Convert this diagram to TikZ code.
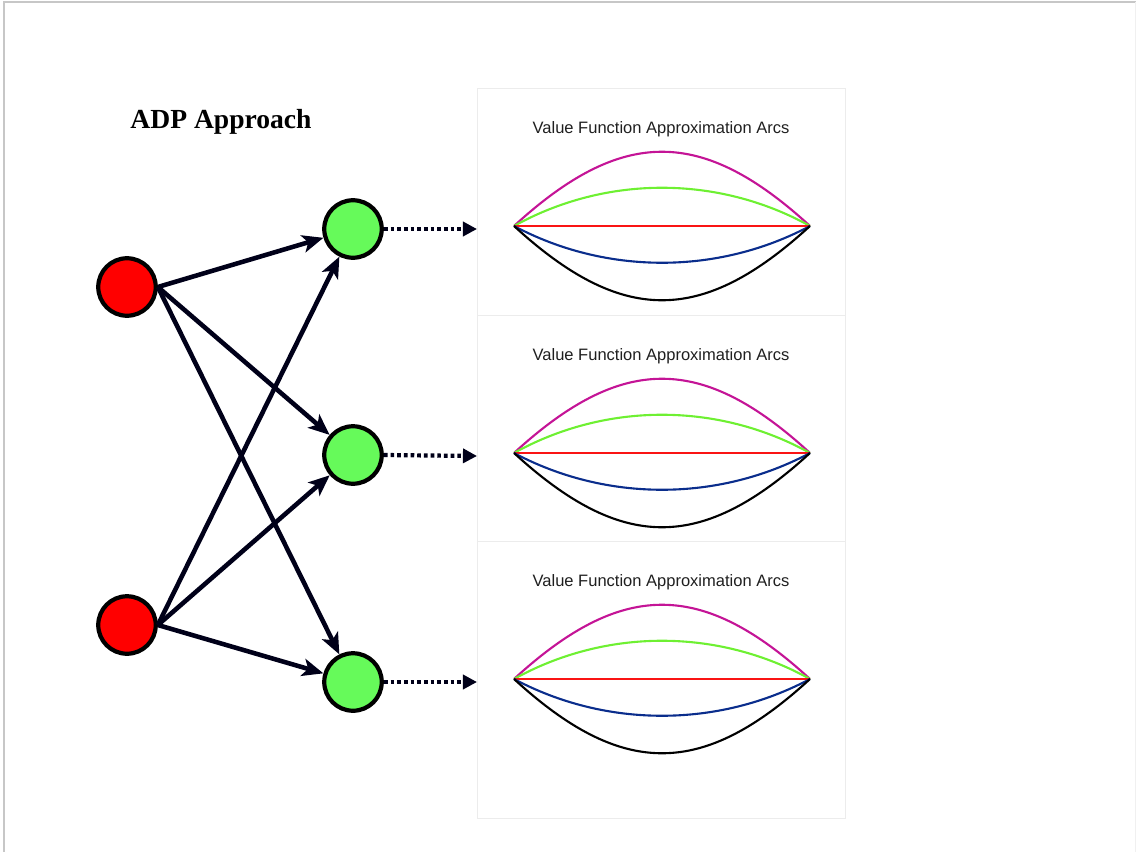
\documentclass[tikz,border=0pt]{standalone}
\usepackage{fontspec}
\setmainfont{Liberation Serif}
\newfontfamily\panelfont{Liberation Sans}
\usepackage{xcolor}
\usetikzlibrary{positioning, arrows.meta, shapes.geometric}

\definecolor{nodered}{RGB}{255,0,0}
\definecolor{nodegreen}{RGB}{102,250,90}
\definecolor{arcmagenta}{RGB}{196,20,150}
\definecolor{arcgreen}{RGB}{110,240,50}
\definecolor{arcred}{RGB}{250,20,20}
\definecolor{arcblue}{RGB}{10,45,140}
\definecolor{panelgray}{RGB}{236,236,236}

\begin{document}
\begin{tikzpicture}[
    x=0.02cm, y=-0.02cm,
    state/.style={
        circle,
        draw=black,
        line width=2.4pt,
        minimum size=1.15cm,
        inner sep=0pt
    },
    decision/.style={
        state,
        fill=nodered
    },
    outcome/.style={
        state,
        fill=nodegreen
    },
    arrow/.style={
        -{Stealth[length=12pt, width=10pt, inset=3pt]},
        line width=2.6pt,
        black!90!blue
    },
    dotarrow/.style={
        -{Triangle[length=8pt, width=8pt]},
        line width=2.4pt,
        dash pattern=on 2.1pt off 1.7pt,
        black!90!blue
    },
    panel/.style={
        draw=panelgray,
        line width=0.5pt
    },
    paneltitle/.style={
        font=\panelfont\fontsize{9.4}{11}\selectfont,
        text=black!88
    },
    arc/.style={
        line width=1.2pt
    }
]
\useasboundingbox (0,0) rectangle (1136,852);

% Frame
\draw [black!22, line width=0.8pt] (4,852) -- (4,2) -- (1136,2);
\draw [black!6, line width=0.5pt] (1135,2) -- (1135,852);

% Title
\node (title) at (221,122) {\fontsize{15.7}{18}\selectfont\bfseries ADP Approach};

% Decision nodes (left)
\node (r1) at (127,287) [decision] {};
\node (r2) at (127,625) [decision] {};

% Outcome nodes (middle)
\node (g1) at (353,229) [outcome] {};
\node (g2) at (353,455) [outcome] {};
\node (g3) at (353,682) [outcome] {};

% Arrows (decisions -> outcomes)
\draw [arrow] (r1.east) -- (g1);
\draw [arrow] (r1.east) -- (g2);
\draw [arrow] (r1.east) -- (g3);
\draw [arrow] (r2.east) -- (g1);
\draw [arrow] (r2.east) -- (g2);
\draw [arrow] (r2.east) -- (g3);

% Value function panels
\foreach \i/\top/\bot in {1/88/315, 2/315/541, 3/541/818} {
    \draw [panel] (477,\top) rectangle (845,\bot);
    \node (t\i) at (661,\top+41) [paneltitle] {Value Function Approximation Arcs};
    \coordinate (a\i l) at (514,\top+138);
    \coordinate (a\i r) at (810,\top+138);
    \draw [arc, arcmagenta] (a\i l) .. controls ([shift={(108,-99)}]a\i l) and ([shift={(-108,-99)}]a\i r) .. (a\i r);
    \draw [arc, arcgreen] (a\i l) .. controls ([shift={(92,-51)}]a\i l) and ([shift={(-92,-51)}]a\i r) .. (a\i r);
    \draw [arc, arcred] (a\i l) -- (a\i r);
    \draw [arc, arcblue] (a\i l) .. controls ([shift={(92,49)}]a\i l) and ([shift={(-92,49)}]a\i r) .. (a\i r);
    \draw [arc, black] (a\i l) .. controls ([shift={(108,99)}]a\i l) and ([shift={(-108,99)}]a\i r) .. (a\i r);
    \coordinate (p\i) at (477,\top+141);
}

% Dotted arrows (outcomes -> panels)
\draw [dotarrow] (g1.east) -- (p1);
\draw [dotarrow] (g2.east) -- (p2);
\draw [dotarrow] (g3.east) -- (p3);

\end{tikzpicture}
\end{document}
